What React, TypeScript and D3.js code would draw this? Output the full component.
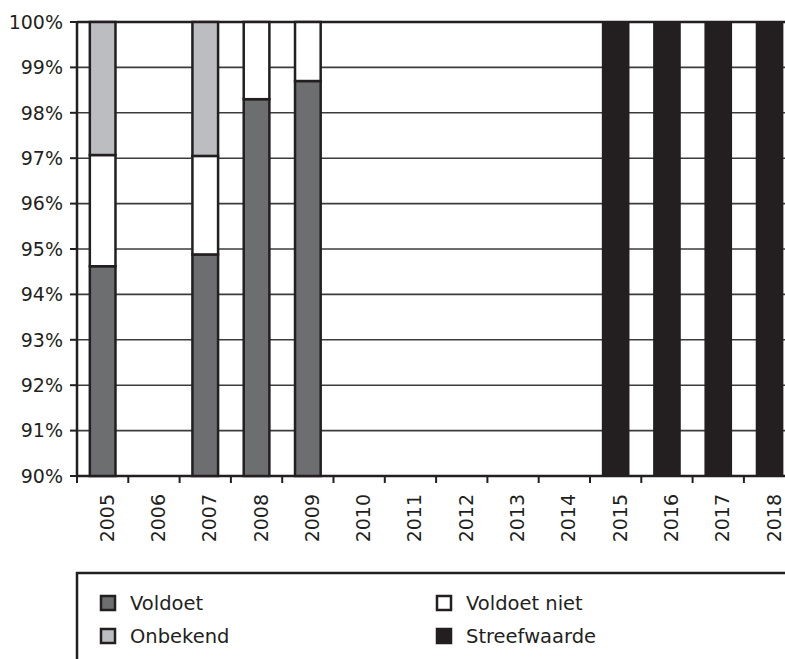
import React, { useEffect, useRef } from "react";
import * as d3 from "d3";

const years = ["2005", "2006", "2007", "2008", "2009", "2010", "2011", "2012", "2013", "2014", "2015", "2016", "2017", "2018"];
// percentages per year, null = no bar
const voldoet = [94.62, null, 94.88, 98.3, 98.7, null, null, null, null, null, null, null, null, null];
const voldoetNiet = [2.45, null, 2.17, 1.7, 1.3, null, null, null, null, null, null, null, null, null];
const onbekend = [2.93, null, 2.95, 0, 0, null, null, null, null, null, null, null, null, null];
const streefwaarde = [null, null, null, null, null, null, null, null, null, null, 100, 100, 100, 100];
const yTicks = [90, 91, 92, 93, 94, 95, 96, 97, 98, 99, 100];

const seriesNames = ["Voldoet", "Onbekend", "Voldoet niet", "Streefwaarde"];
const seriesColors = ["#6d6e70", "#bcbdc0", "#ffffff", "#231f20"];

const App = () => {
	const chartRef = useRef<SVGSVGElement>(null);

	useEffect(() => {
		const width = 785;
		const height = 659;
		const left = 77;
		const top = 22;
		const bottom = 476;
		const ink = "#231f20";
		const font = "DejaVu Sans, sans-serif";

		const svg = d3.select(chartRef.current);
		svg.selectAll("*").remove();
		svg.attr("width", width).attr("height", height);

		const x = d3.scaleBand().domain(years).range([left, left + 51.3 * years.length]).padding(0);
		const y = d3.scaleLinear().domain([90, 100]).range([bottom, top]);

		// gridlines
		svg.append("g")
			.selectAll("line")
			.data(yTicks)
			.enter()
			.append("line")
			.attr("x1", left)
			.attr("x2", width + 10)
			.attr("y1", d => y(d))
			.attr("y2", d => y(d))
			.attr("stroke", d => (d === 100 || d === 90 ? ink : "#3c3c3e"))
			.attr("stroke-width", d => (d === 100 || d === 90 ? 2.5 : 1.6));

		const bw = x.bandwidth() * 0.5;
		const bx = (i: number) => (x(years[i]) as number) + x.bandwidth() * 0.25;

		// stacked bars
		const stacks: { i: number; y0: number; y1: number; color: string }[] = [];
		years.forEach((_, i) => {
			if (voldoet[i] == null) return;
			let base = 0;
			const parts = [voldoet[i] as number, voldoetNiet[i] as number, onbekend[i] as number];
			const cols = [seriesColors[0], seriesColors[2], seriesColors[1]];
			parts.forEach((v, k) => {
				if (v > 0) stacks.push({ i, y0: base, y1: base + v, color: cols[k] });
				base += v;
			});
		});

		svg.append("g")
			.selectAll("rect")
			.data(stacks)
			.enter()
			.append("rect")
			.attr("x", d => bx(d.i))
			.attr("width", bw)
			.attr("y", d => y(Math.min(100, d.y1)))
			.attr("height", d => y(Math.max(90, d.y0)) - y(Math.min(100, d.y1)))
			.attr("fill", d => d.color)
			.attr("stroke", ink)
			.attr("stroke-width", 2.5);

		svg.append("g")
			.selectAll("rect")
			.data(streefwaarde.map((v, i) => ({ v, i })).filter(d => d.v != null))
			.enter()
			.append("rect")
			.attr("x", d => bx(d.i) - 1)
			.attr("width", bw + 2)
			.attr("y", d => y(d.v as number))
			.attr("height", d => bottom - y(d.v as number))
			.attr("fill", seriesColors[3]);

		// y axis
		svg.append("line")
			.attr("x1", left).attr("x2", left)
			.attr("y1", top).attr("y2", bottom)
			.attr("stroke", ink).attr("stroke-width", 2.5);

		const yg = svg.append("g");
		yg.selectAll("line")
			.data(yTicks)
			.enter()
			.append("line")
			.attr("x1", left - 7).attr("x2", left)
			.attr("y1", d => y(d)).attr("y2", d => y(d))
			.attr("stroke", ink).attr("stroke-width", 2);
		yg.selectAll("text")
			.data(yTicks)
			.enter()
			.append("text")
			.text(d => d + "%")
			.attr("x", left - 14)
			.attr("y", d => y(d))
			.attr("dy", "0.36em")
			.attr("text-anchor", "end")
			.style("font-family", font)
			.style("font-size", "19px")
			.attr("fill", ink);

		// x axis ticks and labels
		const xg = svg.append("g");
		xg.selectAll("line")
			.data(years)
			.enter()
			.append("line")
			.attr("x1", d => x(d) as number).attr("x2", d => x(d) as number)
			.attr("y1", bottom).attr("y2", bottom + 7)
			.attr("stroke", ink).attr("stroke-width", 2);
		xg.selectAll("text")
			.data(years)
			.enter()
			.append("text")
			.text(d => d)
			.attr("transform", d => `translate(${(x(d) as number) + x.bandwidth() / 2}, 494) rotate(-90)`)
			.attr("dy", "0.58em")
			.attr("text-anchor", "end")
			.style("font-family", font)
			.style("font-size", "19px")
			.attr("fill", ink);

		// legend
		svg.append("path")
			.attr("d", `M${left},${height + 10} V573 H${width + 10}`)
			.attr("fill", "none")
			.attr("stroke", ink)
			.attr("stroke-width", 2.5);

		const legendPos = [
			{ x: 101, y: 603 },
			{ x: 101, y: 636 },
			{ x: 437, y: 603 },
			{ x: 437, y: 636 },
		];
		const lg = svg.append("g")
			.selectAll("g")
			.data(seriesNames)
			.enter()
			.append("g")
			.attr("transform", (_, i) => `translate(${legendPos[i].x}, ${legendPos[i].y})`);
		lg.append("rect")
			.attr("x", 0).attr("y", -7)
			.attr("width", 14).attr("height", 14)
			.attr("fill", (_, i) => seriesColors[i])
			.attr("stroke", ink)
			.attr("stroke-width", 2.5);
		lg.append("text")
			.text(d => d)
			.attr("x", 29)
			.attr("dy", "0.36em")
			.style("font-family", font)
			.style("font-size", "19.5px")
			.attr("fill", ink);
	}, []);

	return <svg ref={chartRef} style={{ position: "absolute", left: 0, top: 0 }}></svg>;
};

export default App;
